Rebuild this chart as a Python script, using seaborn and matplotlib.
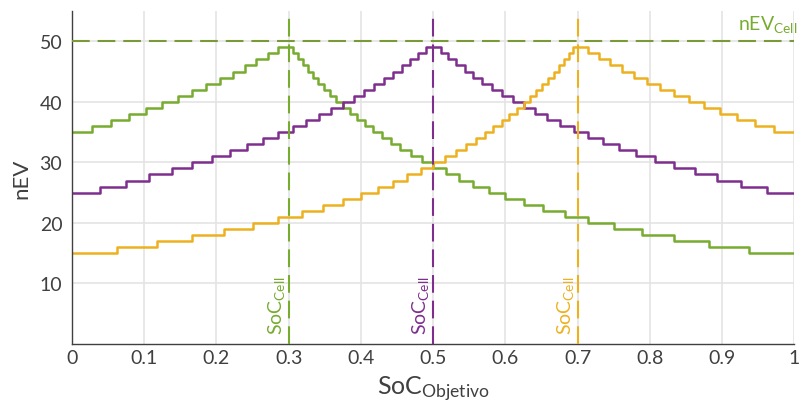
import matplotlib
matplotlib.use("Agg")
import matplotlib.pyplot as plt
import pandas as pd
import seaborn as sns

# SoC_Cell of each vehicle group and its line colour
soc_cell = [0.3, 0.5, 0.7]
cell_colors = ["#77AC30", "#7E2F8E", "#EDB120"]
nev_cell = 50

# step curves: SoC_Objetivo where each level starts, and the nEV level
soc_03 = [0, 0.0278, 0.0541, 0.0789, 0.1026, 0.125, 0.1463, 0.1667, 0.1860, 0.2045,
          0.2222, 0.2391, 0.2553, 0.2708, 0.2857,
          0.3061, 0.3125, 0.3191, 0.3261, 0.3333, 0.3409, 0.3488, 0.3571, 0.3659, 0.375,
          0.3846, 0.3947, 0.4054, 0.4167, 0.4286, 0.4412, 0.4545, 0.4688, 0.4839, 0.5,
          0.5172, 0.5357, 0.5556, 0.5769, 0.6, 0.625, 0.6522, 0.6818, 0.7143, 0.75,
          0.7895, 0.8333, 0.8824, 0.9375, 1.0]
nev_03 = [35, 36, 37, 38, 39, 40, 41, 42, 43, 44, 45, 46, 47, 48, 49,
          48, 47, 46, 45, 44, 43, 42, 41, 40, 39, 38, 37, 36, 35, 34, 33, 32, 31, 30, 29,
          28, 27, 26, 25, 24, 23, 22, 21, 20, 19, 18, 17, 16, 15, 15]

soc_05 = [0, 0.0385, 0.0741, 0.1071, 0.1379, 0.1667, 0.1935, 0.2188, 0.2424, 0.2647,
          0.2857, 0.3056, 0.3243, 0.3421, 0.3590, 0.375, 0.3902, 0.4048, 0.4186, 0.4318,
          0.4444, 0.4565, 0.4681, 0.4792, 0.4898,
          0.5102, 0.5208, 0.5319, 0.5435, 0.5556, 0.5682, 0.5814, 0.5952, 0.6098, 0.625,
          0.6410, 0.6579, 0.6757, 0.6944, 0.7143, 0.7353, 0.7576, 0.7813, 0.8065, 0.8333,
          0.8621, 0.8929, 0.9259, 0.9615, 1.0]
nev_05 = [25, 26, 27, 28, 29, 30, 31, 32, 33, 34, 35, 36, 37, 38, 39, 40, 41, 42, 43, 44,
          45, 46, 47, 48, 49,
          48, 47, 46, 45, 44, 43, 42, 41, 40, 39, 38, 37, 36, 35, 34, 33, 32, 31, 30, 29,
          28, 27, 26, 25, 25]

soc_07 = [0, 0.0625, 0.1176, 0.1667, 0.2105, 0.25, 0.2857, 0.3182, 0.3478, 0.375,
          0.4, 0.4231, 0.4444, 0.4643, 0.4828, 0.5, 0.5161, 0.5313, 0.5455, 0.5588,
          0.5714, 0.5833, 0.5946, 0.6053, 0.6154, 0.625, 0.6341, 0.6429, 0.6512, 0.6591,
          0.6667, 0.6739, 0.6809, 0.6875, 0.6939,
          0.7143, 0.7292, 0.7447, 0.7609, 0.7778, 0.7955, 0.8140, 0.8333, 0.8537, 0.875,
          0.8974, 0.9211, 0.9459, 0.9722, 1.0]
nev_07 = [15, 16, 17, 18, 19, 20, 21, 22, 23, 24, 25, 26, 27, 28, 29, 30, 31, 32, 33, 34,
          35, 36, 37, 38, 39, 40, 41, 42, 43, 44, 45, 46, 47, 48, 49,
          48, 47, 46, 45, 44, 43, 42, 41, 40, 39, 38, 37, 36, 35, 35]

x_ticks = [0, 0.1, 0.2, 0.3, 0.4, 0.5, 0.6, 0.7, 0.8, 0.9, 1]
x_tick_labels = ["0", "0.1", "0.2", "0.3", "0.4", "0.5", "0.6", "0.7", "0.8", "0.9", "1"]
y_ticks = [10, 20, 30, 40, 50]

sns.set_theme(style="white")
plt.rcParams["font.family"] = ["Lato", "DejaVu Sans"]
plt.rcParams["mathtext.default"] = "regular"

frames = []
for c, xs, ys in zip(soc_cell, [soc_03, soc_05, soc_07], [nev_03, nev_05, nev_07]):
    frames.append(pd.DataFrame({"soc": xs, "nev": ys, "cell": str(c)}))
df = pd.concat(frames, ignore_index=True)
palette = {str(c): col for c, col in zip(soc_cell, cell_colors)}

fig, ax = plt.subplots(figsize=(8, 4.14), dpi=100)
fig.subplots_adjust(left=0.09, right=0.993, bottom=0.1667, top=0.971)

ax.grid(True, color="#e4e4e4", lw=1.2)
ax.set_axisbelow(True)

sns.lineplot(data=df, x="soc", y="nev", hue="cell", palette=palette,
             drawstyle="steps-post", estimator=None, sort=False,
             lw=1.8, legend=False, ax=ax, zorder=2)

dash = (0, (8.5, 3.8))
for c, col in zip(soc_cell, cell_colors):
    ax.axvline(c, color=col, ls=dash, lw=1.5, zorder=3)
    ax.text(c - 0.003, 1.6, "SoC$_{Cell}$", rotation=90, ha="right", va="bottom",
            color=col, fontsize=14)
ax.axhline(nev_cell, color="#7A9A3A", ls=dash, lw=1.5, zorder=3)
ax.text(1.004, 51.2, "nEV$_{Cell}$", ha="right", va="bottom", color="#77AC30",
        fontsize=14, clip_on=False)

ax.set_xlim(0, 1)
ax.set_ylim(0, 55)
ax.set_xticks(x_ticks)
ax.set_xticklabels(x_tick_labels)
ax.set_yticks(y_ticks)

for side in ["top", "right"]:
    ax.spines[side].set_visible(False)
for side in ["left", "bottom"]:
    ax.spines[side].set_color("#404040")
    ax.spines[side].set_linewidth(1.0)

ax.tick_params(direction="in", length=6, width=1, colors="#404040", labelsize=14)
ax.tick_params(axis="y", pad=7)
ax.set_xlabel("SoC$_{Objetivo}$", fontsize=18, color="#404040", labelpad=6)
ax.set_ylabel("nEV", fontsize=16, color="#404040", labelpad=6)

fig.savefig("out.png", dpi=100)
